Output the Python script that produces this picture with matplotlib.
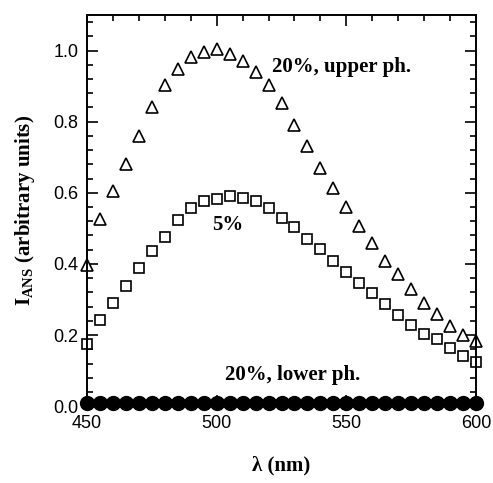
import matplotlib
matplotlib.use("Agg")
import matplotlib.pyplot as plt
from matplotlib.ticker import MultipleLocator
import numpy as np

plt.rcParams['mathtext.fontset'] = 'custom'
plt.rcParams['mathtext.rm'] = 'Liberation Serif:bold'
plt.rcParams['mathtext.bf'] = 'Liberation Serif:bold'

# wavelength grid (nm), every 5 nm
wl = np.arange(450, 601, 5)

# 20%, upper phase (open triangles)
upper = [0.397, 0.526, 0.606, 0.680, 0.760, 0.840, 0.904, 0.948, 0.982, 0.995,
         1.003, 0.989, 0.970, 0.940, 0.904, 0.853, 0.790, 0.732, 0.671, 0.613,
         0.560, 0.508, 0.459, 0.409, 0.371, 0.329, 0.291, 0.259, 0.226, 0.200,
         0.183]
# 5% (open squares)
five = [0.175, 0.242, 0.289, 0.338, 0.388, 0.435, 0.477, 0.524, 0.557, 0.576,
        0.583, 0.590, 0.585, 0.576, 0.557, 0.530, 0.505, 0.470, 0.442, 0.409,
        0.376, 0.347, 0.317, 0.286, 0.256, 0.228, 0.203, 0.188, 0.164, 0.142,
        0.125]
# 20%, lower phase (filled circles)
lower = [0.01] * len(wl)

fig = plt.figure(figsize=(4.93, 4.83), dpi=100)
ax = fig.add_axes([0.176, 0.159, 0.790, 0.810])

ax.plot(wl, lower, 'o', color='black', markersize=10, zorder=3, clip_on=False)
ax.plot(wl, five, 's', mfc='white', mec='black', mew=1.2, markersize=7.5, clip_on=False)
ax.plot(wl, upper, '^', mfc='white', mec='black', mew=1.2, markersize=9, clip_on=False)

ax.set_xlim(450, 600)
ax.set_ylim(0, 1.1)
ax.xaxis.set_major_locator(MultipleLocator(50))
ax.xaxis.set_minor_locator(MultipleLocator(10))
ax.yaxis.set_major_locator(MultipleLocator(0.2))
ax.yaxis.set_minor_locator(MultipleLocator(0.04))
ax.yaxis.set_major_formatter(matplotlib.ticker.FormatStrFormatter('%.1f'))

ax.tick_params(which='both', direction='in', top=True, right=True, width=1.2)
ax.tick_params(which='major', length=8, labelsize=13, pad=6)
ax.tick_params(which='minor', length=4)
for lab in ax.get_xticklabels() + ax.get_yticklabels():
    lab.set_family('Liberation Sans')
for s in ax.spines.values():
    s.set_linewidth(1.4)

tfont = dict(family='Liberation Serif', weight='bold', size=15)
ax.text(521.3, 0.955, '20%, upper ph.', ha='left', va='center', **tfont)
ax.text(504.4, 0.51, '5%', ha='center', va='center', **tfont)
ax.text(503.2, 0.087, '20%, lower ph.', ha='left', va='center', **tfont)

ax.set_xlabel('\u03bb (nm)', fontsize=15, family='Liberation Serif',
              fontweight='bold', labelpad=17)
ax.set_ylabel(r'$\mathbf{I}_{\mathbf{ANS}}$ (arbitrary units)', fontsize=15,
              family='Liberation Serif', fontweight='bold', labelpad=12)

fig.savefig('out.png', dpi=100)
